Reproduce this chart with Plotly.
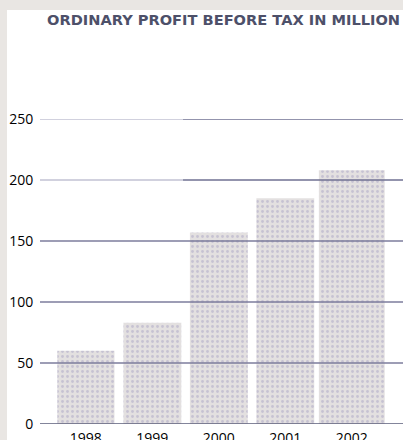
import plotly.graph_objects as go

# Ordinary profit before tax, in millions
years = ["1998", "1999", "2000", "2001", "2002"]
profit = [60, 83, 157, 185, 208]
y_ticks = [0, 50, 100, 150, 200, 250]
title_text = "ORDINARY PROFIT BEFORE TAX IN MILLION"

bar_widths = [0.86, 0.87, 0.87, 0.87, 0.99]

fig = go.Figure()
fig.add_trace(go.Bar(
    x=years,
    y=profit,
    width=bar_widths,
    marker=dict(
        color="#e3e0e0",
        line=dict(width=0),
        pattern=dict(shape=".", fgcolor="#a9a3c4", bgcolor="#e3e0e0",
                     size=5, solidity=0.25),
    ),
    hoverinfo="skip",
))

# Horizontal rules drawn over the bars
shapes = [
    # white panel over the light grey page frame
    dict(type="rect", xref="paper", yref="paper",
         x0=-0.0909, x1=1.01, y0=-0.06, y1=1.357,
         fillcolor="white", line=dict(width=0), layer="below"),
]
for t in y_ticks:
    if t >= 200:
        # upper rules are faint on the left, solid on the right
        shapes.append(dict(
            type="line", xref="paper", yref="y",
            x0=0, x1=0.394, y0=t, y1=t,
            line=dict(color="#a3a4bd", width=1.1), layer="above",
        ))
        shapes.append(dict(
            type="line", xref="paper", yref="y",
            x0=0.394, x1=1, y0=t, y1=t,
            line=dict(color="#6f7192", width=1.7), layer="above",
        ))
    else:
        shapes.append(dict(
            type="line", xref="paper", yref="y",
            x0=0, x1=1, y0=t, y1=t,
            line=dict(color="#5a5c7a" if t == 0 else "#7c7d9c", width=1.6),
            layer="above",
        ))

fig.update_layout(
    width=403, height=440,
    margin=dict(l=40, r=0, t=119, b=16),
    paper_bgcolor="#e9e6e3",
    plot_bgcolor="rgba(0,0,0,0)",
    showlegend=False,
    bargap=0.13,
    shapes=shapes,
    xaxis=dict(
        type="category",
        range=[-0.69, 4.77],
        automargin=False,
        showgrid=False, zeroline=False, showline=False,
        ticks="outside", ticklen=1, tickcolor="rgba(0,0,0,0)",
        tickfont=dict(family="Open Sans", size=14, color="#000000"),
    ),
    yaxis=dict(
        range=[0, 250],
        tickvals=y_ticks,
        automargin=False,
        showgrid=False, zeroline=False, showline=False,
        ticks="outside", ticklen=3, tickcolor="rgba(0,0,0,0)",
        tickfont=dict(family="Open Sans", size=14, color="#000000"),
    ),
    annotations=[dict(
        text="<b>" + title_text + "</b>",
        xref="paper", yref="paper",
        x=0.014, y=1.3246, xanchor="left", yanchor="middle",
        showarrow=False,
        font=dict(family="DejaVu Sans", size=14.6, color="#4d5069"),
    )],
)

fig.write_html("out.html")
